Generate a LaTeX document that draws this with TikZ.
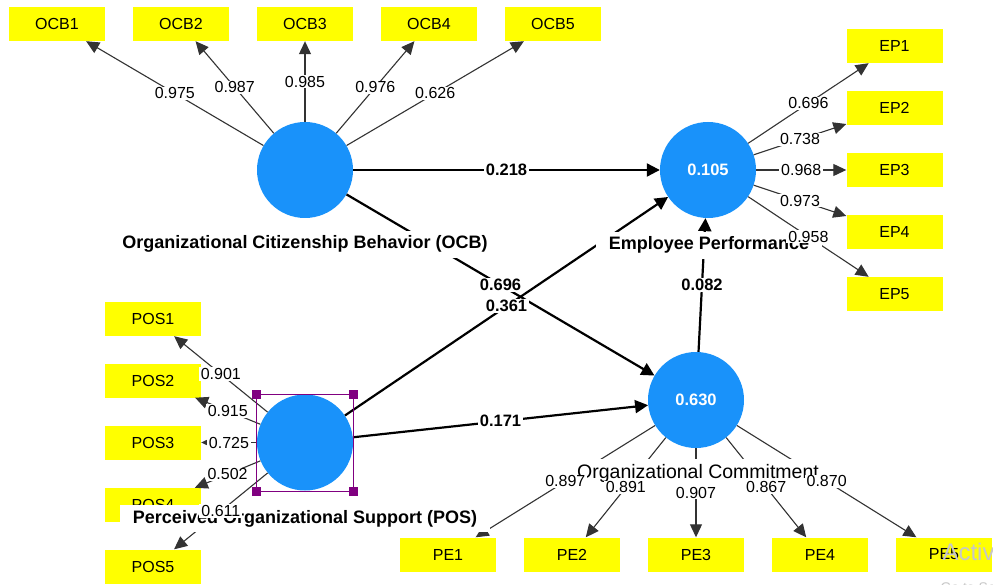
\documentclass[tikz,border=0pt]{standalone}
\usepackage{fontspec}
\setmainfont{Liberation Sans}
\usetikzlibrary{arrows.meta}
\definecolor{cblue}{RGB}{25,146,250}
\definecolor{selp}{RGB}{128,0,128}
\definecolor{ind}{RGB}{255,255,0}
\definecolor{lgray}{RGB}{51,51,51}
\begin{document}
\begin{tikzpicture}[x=1pt,y=-1pt,
 lv/.style={circle,fill=cblue,minimum size=96pt,inner sep=0pt,text=white,font=\fontsize{16.5}{18}\selectfont\bfseries},
 mv/.style={fill=ind,minimum width=96pt,minimum height=34pt,inner sep=0pt,font=\fontsize{16}{18}\selectfont},
 load/.style={draw=lgray,line width=1.1pt,-{Triangle[length=13pt,width=12pt]}},
 spath/.style={draw=black,line width=2.2pt,-{Triangle[length=13pt,width=13pt]}},
 lval/.style={fill=white,inner xsep=2pt,inner ysep=1pt,font=\fontsize{16}{18}\selectfont},
 pval/.style={fill=white,inner xsep=2pt,inner ysep=1pt,font=\fontsize{16.5}{18}\selectfont\bfseries},
 lvname/.style={fill=white,inner xsep=13pt,inner ysep=5pt,font=\fontsize{18}{20}\selectfont\bfseries,anchor=base},
 wmark/.style={text=black!22,anchor=base west}
]
\useasboundingbox (0,0) rectangle (993,585);
\clip (0,0) rectangle (993,585);
\fill[white] (0,0) rectangle (993,585);
% latent variables
\node[lv] (ocb) at (305,170) {};
\node[lv] (ep) at (708,170) {0.105};
\node[lv] (pos) at (305,442.5) {};
\node[lv] (oc) at (696,400) {0.630};
% indicators
\foreach \n/\x in {1/57,2/181,3/305,4/429,5/553} \node[mv] (ocb\n) at (\x,24) {OCB\n};
\foreach \n/\y in {1/46,2/108,3/170,4/232,5/294} \node[mv] (ep\n) at (894.5,\y) {EP\n};
\foreach \n/\y in {1/319,2/380.5,3/442.5,4/505,5/566.5} \node[mv] (pos\n) at (153,\y) {POS\n};
\foreach \n/\x in {1/448,2/572,3/696,4/820,5/944} \node[mv] (pe\n) at (\x,554.5) {PE\n};
% loading lines
\foreach \n in {1,...,5} {
  \draw[load] (ocb) -- (ocb\n);
  \draw[load] (ep) -- (ep\n);
  \draw[load] (pos) -- (pos\n);
  \draw[load] (oc) -- (pe\n);
}
% structural paths
\draw[spath] (ocb) -- (ep);
\draw[spath] (ocb) -- (oc);
\draw[spath] (pos) -- (ep);
\draw[spath] (pos) -- (oc);
\draw[spath] (oc) -- (ep);
% selection frame
\node[draw=selp,line width=0.8pt,minimum width=97pt,minimum height=97pt,inner sep=0pt,outer sep=0pt] (sel) at (304.5,442.5) {};
\foreach \c in {north west,north east,south west,south east}
  \fill[selp] (sel.\c) ++(-4.5,-4.5) rectangle ++(9,9);
% construct names
\node[lvname] (ocbname) at (305,249) {Organizational Citizenship Behavior (OCB)};
\node[lvname] (epname) at (709,250) {Employee Performance};
\node[lvname] (posname) at (305,523) {Perceived Organizational Support (POS)};
\node[lvname,font=\fontsize{19.5}{21}\selectfont] (ocname) at (698,478) {Organizational Commitment};
% loading values
\foreach \n/\v in {1/0.975,2/0.987,3/0.985,4/0.976,5/0.626}
  \path (ocb) -- (ocb\n) node[lval,midway] {\v};
\foreach \n/\v in {1/0.696,2/0.738,3/0.968,4/0.973,5/0.958}
  \path (ep) -- (ep\n) node[lval,midway] {\v};
\foreach \n/\v in {1/0.901,2/0.915,3/0.725,4/0.502,5/0.611}
  \path (pos) -- (pos\n) node[lval,midway] {\v};
\foreach \n/\v in {1/0.897,2/0.891,3/0.907,4/0.867,5/0.870}
  \path (oc) -- (pe\n) node[lval,midway] {\v};
% path coefficients
\path (ocb) -- (ep) node[pval,midway] {0.218};
\path (ocb) -- (oc) node[pval,midway] {0.696};
\path (pos) -- (ep) node[pval,midway] {0.361};
\path (pos) -- (oc) node[pval,midway] {0.171};
\path (oc) -- (ep) node[pval,midway] {0.082};
% watermark
\node[wmark,font=\fontsize{24}{26}\selectfont] (wm1) at (939,560) {Activate Windows};
\node[wmark,font=\fontsize{14}{16}\selectfont] (wm2) at (937,592) {Go to Settings to activate Windows.};
\end{tikzpicture}
\end{document}
